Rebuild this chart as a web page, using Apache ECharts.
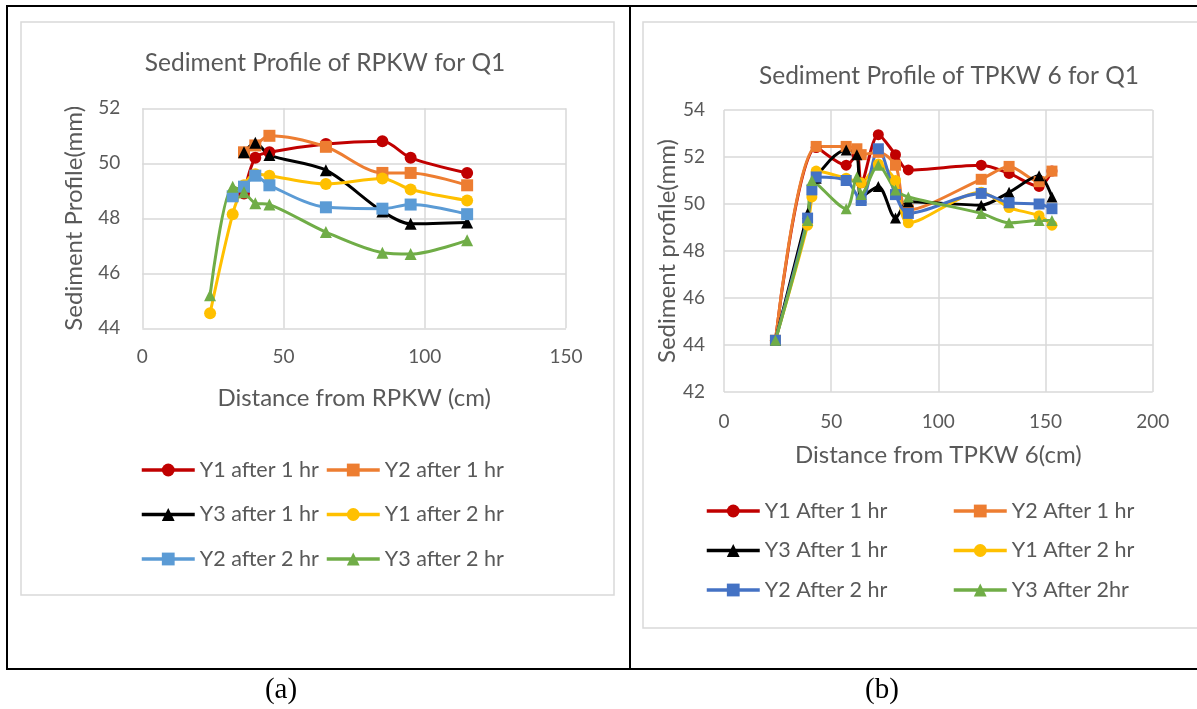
<!DOCTYPE html>
<html><head><meta charset="utf-8">
<script src="https://cdn.jsdelivr.net/npm/echarts@6/dist/echarts.min.js"></script>
<style>html,body{margin:0;padding:0;background:#fff}#c{width:1197px;height:709px}</style>
</head><body><div id="c"></div>
<script>
// ---------- Chart (a) ----------
const aTitle = 'Sediment Profile of RPKW for Q1';
const aXName = 'Distance from RPKW (cm)';
const aYName = 'Sediment Profile(mm)';
const aNames = ['Y1 after 1 hr','Y2 after 1 hr','Y3 after 1 hr','Y1 after 2 hr','Y2 after 2 hr','Y3 after 2 hr'];
const aY1h1 = [[36,48.9],[40,50.2],[45,50.4],[65,50.7],[85,50.8],[95,50.2],[115,49.65]];
const aY2h1 = [[36,50.4],[40,50.65],[45,51.0],[65,50.6],[85,49.65],[95,49.65],[115,49.2]];
const aY3h1 = [[36,50.4],[40,50.75],[45,50.3],[65,49.75],[85,48.25],[95,47.8],[115,47.85]];
const aY1h2 = [[24,44.55],[32,48.15],[36,49.2],[40,49.6],[45,49.55],[65,49.25],[85,49.45],[95,49.05],[115,48.65]];
const aY2h2 = [[32,48.8],[36,49.15],[40,49.55],[45,49.2],[65,48.4],[85,48.35],[95,48.5],[115,48.15]];
const aY3h2 = [[24,45.2],[32,49.15],[36,48.95],[40,48.55],[45,48.5],[65,47.5],[85,46.75],[95,46.7],[115,47.2]];
const aXTicks = [0, 50, 100, 150];
const aYTicks = [44, 46, 48, 50, 52];

// ---------- Chart (b) ----------
const bTitle = 'Sediment Profile of TPKW 6 for Q1';
const bXName = 'Distance from TPKW 6(cm)';
const bYName = 'Sediment profile(mm)';
const bNames = ['Y1 After 1 hr','Y2 After 1 hr','Y3 After 1 hr','Y1 After 2 hr','Y2 After 2 hr','Y3 After 2hr'];
const bY1h1 = [[24,44.2],[43,52.4],[57,51.65],[62,52.1],[64,50.9],[72,52.95],[80,52.1],[86,51.45],[120,51.65],[133,51.3],[147,50.75],[153,51.4]];
const bY2h1 = [[24,44.2],[43,52.45],[57,52.45],[62,52.35],[64,52.1],[72,52.2],[80,51.65],[86,49.75],[120,51.05],[133,51.6],[147,50.95],[153,51.4]];
const bY3h1 = [[24,44.2],[39,49.6],[43,51.1],[57,52.3],[62,52.1],[64,50.3],[72,50.75],[80,49.4],[86,50.1],[120,49.95],[133,50.5],[147,51.2],[153,50.3]];
const bY1h2 = [[24,44.2],[39,49.1],[41,50.3],[43,51.4],[57,51.1],[64,50.9],[72,51.7],[80,51.0],[86,49.2],[120,50.5],[133,49.85],[147,49.5],[153,49.1]];
const bY2h2 = [[24,44.2],[39,49.4],[41,50.6],[43,51.15],[57,51.0],[64,50.15],[72,52.35],[80,50.4],[86,49.6],[120,50.45],[133,50.05],[147,50.0],[153,49.8]];
const bY3h2 = [[24,44.2],[39,49.3],[41,51.0],[57,49.8],[62,51.15],[64,50.4],[72,51.65],[80,50.6],[86,50.3],[120,49.6],[133,49.2],[147,49.3],[153,49.3]];
const bXTicks = [0, 50, 100, 150, 200];
const bYTicks = [42, 44, 46, 48, 50, 52, 54];

const captions = ['(a)', '(b)'];

// ---------- styles ----------
const FONT = 'Lato';
const TXT = '#595959';
const GRID = '#d9d9d9';
const aColors = ['#C00000','#ED7D31','#000000','#FFC000','#5B9BD5','#70AD47'];
const bColors = ['#C00000','#ED7D31','#000000','#FFC000','#4472C4','#70AD47'];
const symbols = ['circle','rect','triangle','circle','rect','triangle'];
const aData = [aY1h1,aY2h1,aY3h1,aY1h2,aY2h2,aY3h2];
const bData = [bY1h1,bY2h1,bY3h1,bY1h2,bY2h2,bY3h2];

function mkSeries(names, data, colors, idx, size) {
  return names.map((n, i) => ({
    name: n, type: 'line', xAxisIndex: idx, yAxisIndex: idx,
    data: data[i], smooth: 0.3, symbol: symbols[i], symbolSize: size,
    showSymbol: true,
    lineStyle: {color: colors[i], width: 3},
    itemStyle: {color: colors[i]},
    emphasis: {disabled: true}, animation: false
  }));
}
function mkX(ticks, idx, name, gap, margin) {
  return {type:'value', gridIndex: idx, min: ticks[0], max: ticks[ticks.length-1], interval: ticks[1]-ticks[0],
    axisLine:{show:false}, axisTick:{show:false},
    splitLine:{show:true, lineStyle:{color:GRID, width:1.5}},
    axisLabel:{color:TXT, fontFamily:FONT, fontSize:19, margin:margin},
    name: name, nameLocation:'middle', nameGap: gap,
    nameTextStyle:{color:TXT, fontFamily:FONT, fontSize:24}};
}
function mkY(ticks, idx, name, gap, margin) {
  return {type:'value', gridIndex: idx, min: ticks[0], max: ticks[ticks.length-1], interval: ticks[1]-ticks[0],
    axisLine:{show:false}, axisTick:{show:false},
    splitLine:{show:true, lineStyle:{color:GRID, width:1.5}},
    axisLabel:{color:TXT, fontFamily:FONT, fontSize:19, margin:margin},
    name: name, nameLocation:'middle', nameGap: gap, nameRotate: 90,
    nameTextStyle:{color:TXT, fontFamily:FONT, fontSize:24}};
}
function mkLegend(names, left, top, gap) {
  return {orient:'vertical', left:left, top:top, data:names, itemWidth:53, itemHeight:16, itemGap:gap,
    selectedMode:false, lineStyle:{width:3.5}, itemStyle:{borderWidth:0},
    textStyle:{color:TXT, fontFamily:FONT, fontSize:21.5, lineHeight:22}};
}

const chart = echarts.init(document.getElementById('c'), null, {renderer:'canvas'});
chart.setOption({
  backgroundColor:'#fff',
  animation:false,
  title:[
    {text:aTitle, left:320, top:46, textAlign:'center', textStyle:{color:TXT, fontFamily:FONT, fontSize:24.5, fontWeight:'normal'}},
    {text:bTitle, left:944, top:59, textAlign:'center', textStyle:{color:TXT, fontFamily:FONT, fontSize:24.5, fontWeight:'normal'}}
  ],
  grid:[
    {left:142.3, top:108.3, width:423.7, height:220},
    {left:724, top:110, width:428.7, height:282}
  ],
  xAxis:[mkX(aXTicks,0,aXName,58,19), mkX(bXTicks,1,bXName,51,20)],
  yAxis:[mkY(aYTicks,0,aYName,56,22), mkY(bYTicks,1,bYName,43,19)],
  legend:[
    mkLegend([aNames[0],aNames[2],aNames[4]], 135, 454, 22.5),
    mkLegend([aNames[1],aNames[3],aNames[5]], 320, 454, 22.5),
    mkLegend([bNames[0],bNames[2],bNames[4]], 700, 495, 17.5),
    mkLegend([bNames[1],bNames[3],bNames[5]], 947, 495, 17.5)
  ],
  series:[...mkSeries(aNames,aData,aColors,0,12), ...mkSeries(bNames,bData,bColors,1,11)],
  graphic:[
    {type:'rect', shape:{x:21, y:22, width:593, height:573}, style:{fill:null, stroke:GRID, lineWidth:1.5}, z:-1},
    {type:'rect', shape:{x:643, y:22, width:560, height:606}, style:{fill:null, stroke:GRID, lineWidth:1.5}, z:-1},
    {type:'line', shape:{x1:6, y1:6, x2:1197, y2:6}, style:{stroke:'#000', lineWidth:2}},
    {type:'line', shape:{x1:7, y1:5, x2:7, y2:670}, style:{stroke:'#000', lineWidth:2}},
    {type:'line', shape:{x1:630, y1:5, x2:630, y2:670}, style:{stroke:'#000', lineWidth:2}},
    {type:'line', shape:{x1:6, y1:669, x2:1197, y2:669}, style:{stroke:'#000', lineWidth:2}},
    {type:'text', x:281, y:690, style:{text:captions[0], font:'29px "Liberation Serif"', fill:'#000', textAlign:'center', textVerticalAlign:'middle'}},
    {type:'text', x:882, y:690, style:{text:captions[1], font:'29px "Liberation Serif"', fill:'#000', textAlign:'center', textVerticalAlign:'middle'}}
  ]
});
</script></body></html>
